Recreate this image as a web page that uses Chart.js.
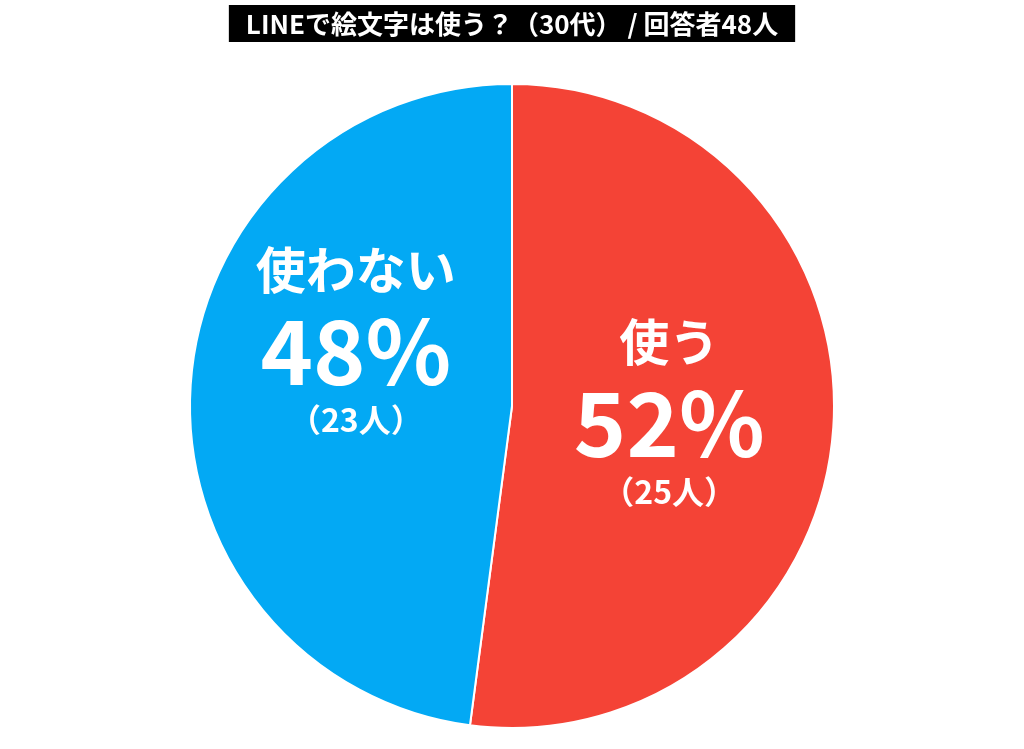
<!DOCTYPE html>
<html>
<head>
<meta charset="utf-8">
<script src="https://cdn.jsdelivr.net/npm/chart.js@4/dist/chart.umd.min.js"></script>
<style>
  html, body { margin: 0; padding: 0; background: #fff; }
  #wrap { width: 1024px; height: 749px; position: relative; }
</style>
</head>
<body>
<div id="wrap"><canvas id="chart"></canvas></div>
<script>
const titleText = "LINEで絵文字は使う？（30代） / 回答者48人";
const categories = ["使う", "使わない"];
const counts = [25, 23];
const percents = ["52%", "48%"];
const colors = ["#F44336", "#03A9F4"];

const font = "'Noto Sans CJK JP', 'Noto Sans', sans-serif";

// black title box at the top
const titleBox = {
	id: "titleBox",
	afterDraw(chart) {
		const ctx = chart.ctx;
		ctx.save();
		ctx.font = "bold 26px " + font;
		const w = ctx.measureText(titleText).width;
		const cx = chart.width / 2;
		ctx.fillStyle = "#000";
		ctx.fillRect(cx - w / 2 - 17, 5, w + 34, 37);
		ctx.fillStyle = "#fff";
		ctx.textAlign = "center";
		ctx.textBaseline = "middle";
		ctx.fillText(titleText, cx, 24);
		ctx.restore();
	},
};

// three-line labels inside each slice
const sliceLabels = {
	id: "sliceLabels",
	afterDatasetsDraw(chart, args, opts) {
		const ctx = chart.ctx;
		const arcs = chart.getDatasetMeta(0).data;
		ctx.save();
		ctx.fillStyle = "#fff";
		ctx.textAlign = "center";
		ctx.textBaseline = "middle";
		arcs.forEach((arc, i) => {
			const mid = (arc.startAngle + arc.endAngle) / 2;
			const r = arc.outerRadius * 0.48;
			const x = arc.x + Math.cos(mid) * r + opts.dx[i];
			const y = arc.y + Math.sin(mid) * r + opts.shift[i];
			ctx.font = "bold 50px " + font;
			ctx.fillText(categories[i], x, y - 78);
			ctx.font = "bold 89px " + font;
			ctx.fillText(percents[i], x, y + 3);
			ctx.font = "bold 32px " + font;
			ctx.fillText("（" + counts[i] + "人）", x, y + 72);
		});
		ctx.restore();
	},
};

new Chart(document.getElementById("chart").getContext("2d"), {
	type: "pie",
	data: {
		labels: categories,
		datasets: [
			{
				data: counts,
				backgroundColor: colors,
				borderColor: "#fff",
				borderWidth: 2,
			},
		],
	},
	options: {
		responsive: true,
		maintainAspectRatio: false,
		animation: false,
		layout: { padding: { top: 83, bottom: 20 } },
		plugins: {
			legend: { display: false },
			tooltip: { enabled: false },
			sliceLabels: { shift: [4, -48], dx: [3, -2] },
		},
	},
	plugins: [titleBox, sliceLabels],
});
</script>
</body>
</html>
